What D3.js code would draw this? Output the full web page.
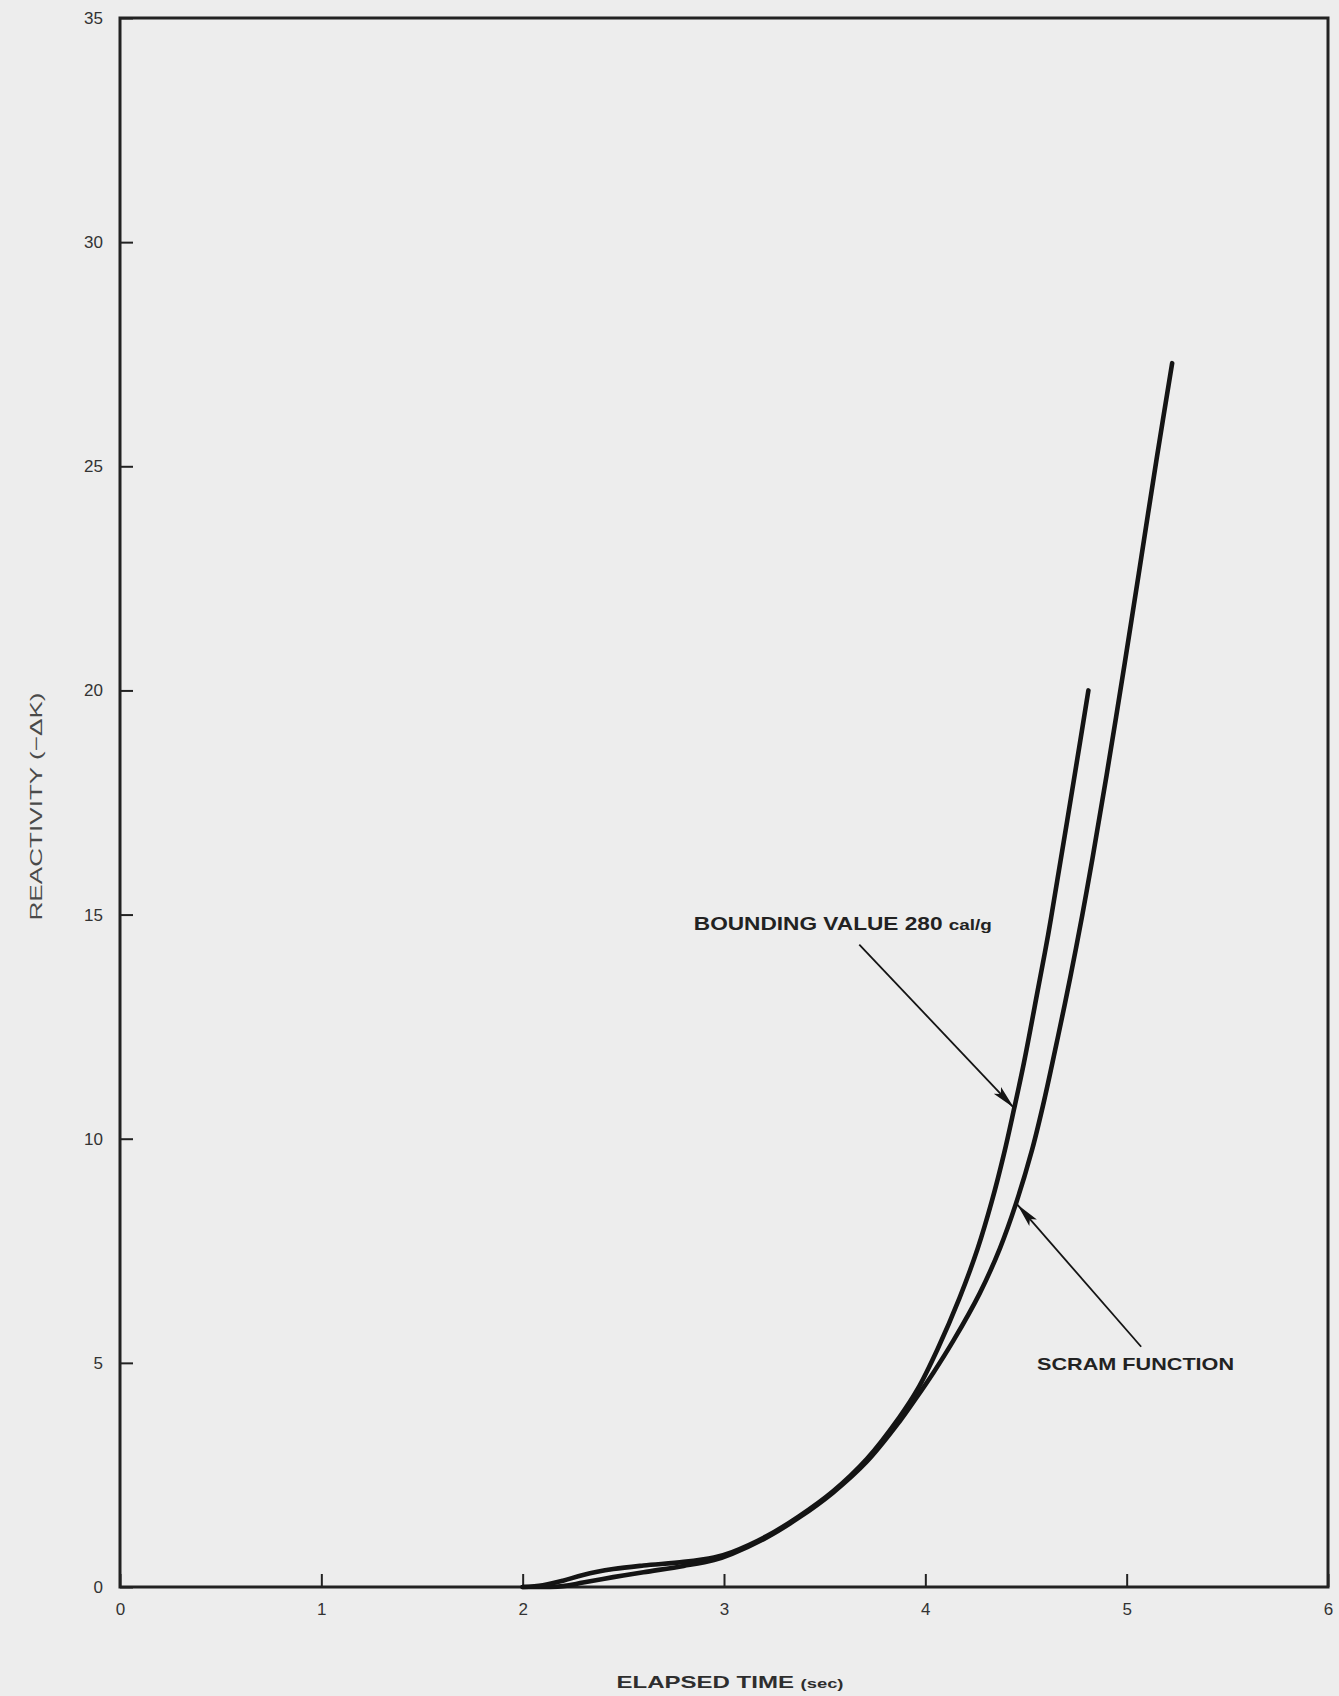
<!DOCTYPE html>
<html>
<head>
<meta charset="utf-8">
<script src="https://cdn.jsdelivr.net/npm/d3@7"></script>
<style>
  html, body { margin: 0; padding: 0; background: #ededed; }
  svg { display: block; }
</style>
</head>
<body>
<svg id="chart" width="1339" height="1696"></svg>
<script>
// Axis ticks
const timeTicks = [0, 1, 2, 3, 4, 5, 6];
const reactivityTicks = [0, 5, 10, 15, 20, 25, 30, 35];

// Bounding value (280 cal/g) reactivity curve
const boundingTime = [2.0, 2.1, 2.2, 2.3, 2.45, 2.6, 2.8, 2.95, 3.04, 3.21, 3.37, 3.54, 3.71, 3.87, 3.96, 4.06, 4.17, 4.26, 4.33, 4.39, 4.44, 4.49, 4.56, 4.61, 4.655, 4.745, 4.81];
const boundingReactivity = [0, 0.04, 0.14, 0.27, 0.4, 0.48, 0.56, 0.66, 0.78, 1.13, 1.57, 2.13, 2.86, 3.78, 4.4, 5.3, 6.45, 7.55, 8.6, 9.65, 10.65, 11.7, 13.35, 14.55, 15.75, 18.2, 20.0];

// Scram function reactivity curve
const scramTime = [2.0, 2.2, 2.3, 2.45, 2.6, 2.8, 2.95, 3.04, 3.21, 3.37, 3.54, 3.71, 3.87, 3.96, 4.04, 4.14, 4.27, 4.37, 4.45, 4.53, 4.59, 4.66, 4.72, 4.78, 4.83, 4.90, 4.99, 5.06, 5.15, 5.226];
const scramReactivity = [0, 0.02, 0.1, 0.22, 0.33, 0.47, 0.6, 0.74, 1.1, 1.54, 2.1, 2.8, 3.68, 4.25, 4.78, 5.5, 6.55, 7.55, 8.55, 9.75, 10.85, 12.3, 13.6, 15.0, 16.25, 18.1, 20.6, 22.6, 25.2, 27.3];

// Callout labels: text, label anchor (time, reactivity), arrow tail and head
const calloutText = ["BOUNDING VALUE 280 cal/g", "SCRAM FUNCTION"];
const calloutLabelAt = [[2.85, 14.65], [4.555, 4.85]];
const calloutFrom = [[3.672, 14.33], [5.072, 5.36]];
const calloutTo = [[4.44, 10.69], [4.457, 8.53]];

const svg = d3.select("#chart");
const margin = { left: 120, right: 11, top: 18, bottom: 109 };
const W = 1339, H = 1696;

const x = d3.scaleLinear().domain([0, 6]).range([margin.left, W - margin.right]);
const y = d3.scaleLinear().domain([0, 35]).range([H - margin.bottom, margin.top]);

const ink = "#141414";
const labelInk = "#333";
const font = "'Liberation Sans', Arial, sans-serif";

// Frame around the plotting area
svg.append("rect")
  .attr("x", x(0)).attr("y", y(35))
  .attr("width", x(6) - x(0)).attr("height", y(0) - y(35))
  .attr("fill", "none").attr("stroke", "#222").attr("stroke-width", 3);

// Left axis with inward ticks
const yAxis = svg.append("g")
  .attr("transform", `translate(${x(0)},0)`)
  .call(d3.axisLeft(y).tickValues(reactivityTicks).tickFormat(d3.format("d"))
    .tickSizeInner(-13).tickSizeOuter(0).tickPadding(17));
yAxis.select(".domain").remove();
yAxis.selectAll(".tick line").attr("stroke", "#222").attr("stroke-width", 2);
yAxis.selectAll(".tick text")
  .attr("fill", labelInk).attr("font-family", font).attr("font-size", 17);

// Bottom axis with inward ticks
const xAxis = svg.append("g")
  .attr("transform", `translate(0,${y(0)})`)
  .call(d3.axisBottom(x).tickValues(timeTicks).tickFormat(d3.format("d"))
    .tickSizeInner(-13).tickSizeOuter(0).tickPadding(16));
xAxis.select(".domain").remove();
xAxis.selectAll(".tick line").attr("stroke", "#222").attr("stroke-width", 2);
xAxis.selectAll(".tick text")
  .attr("fill", labelInk).attr("font-family", font).attr("font-size", 17);

// Axis titles
const xt = svg.append("text")
  .attr("x", (x(0) + x(6)) / 2 + 6).attr("y", 1688)
  .attr("text-anchor", "middle")
  .attr("fill", "#2e2e2e").attr("font-family", font)
  .attr("font-size", 17).attr("font-weight", "bold")
  .attr("textLength", 227).attr("lengthAdjust", "spacingAndGlyphs");
xt.append("tspan").text("ELAPSED TIME ");
xt.append("tspan").attr("font-size", 13).text("(sec)");

svg.append("text")
  .attr("transform", `translate(42,${(y(0) + y(35)) / 2 + 4}) rotate(-90)`)
  .attr("text-anchor", "middle")
  .attr("fill", "#4a4a4a").attr("font-family", font)
  .attr("font-size", 17)
  .attr("textLength", 228).attr("lengthAdjust", "spacingAndGlyphs")
  .text("REACTIVITY (\u2212\u0394K)");

// Curves
const line = d3.line()
  .x(d => x(d[0]))
  .y(d => y(d[1]))
  .curve(d3.curveCatmullRom.alpha(0.5));

const boundingPts = boundingTime.map((t, i) => [t, boundingReactivity[i]]);
const scramPts = scramTime.map((t, i) => [t, scramReactivity[i]]);

[scramPts, boundingPts].forEach(pts => {
  svg.append("path")
    .datum(pts)
    .attr("d", line)
    .attr("fill", "none")
    .attr("stroke", ink)
    .attr("stroke-width", 4.6)
    .attr("stroke-linecap", "round")
    .attr("stroke-linejoin", "round");
});

// Arrowhead for callouts
svg.append("defs").append("marker")
  .attr("id", "head")
  .attr("viewBox", "0 0 24 12")
  .attr("refX", 24).attr("refY", 6)
  .attr("markerWidth", 24).attr("markerHeight", 12)
  .attr("markerUnits", "userSpaceOnUse")
  .attr("orient", "auto")
  .append("path")
  .attr("d", "M0,1 L24,6 L0,11 L5,6 Z")
  .attr("fill", ink);

calloutText.forEach((txt, i) => {
  svg.append("line")
    .attr("x1", x(calloutFrom[i][0])).attr("y1", y(calloutFrom[i][1]))
    .attr("x2", x(calloutTo[i][0])).attr("y2", y(calloutTo[i][1]))
    .attr("stroke", ink).attr("stroke-width", 1.8)
    .attr("marker-end", "url(#head)");
});

// Callout labels
const b = svg.append("text")
  .attr("x", x(calloutLabelAt[0][0])).attr("y", y(calloutLabelAt[0][1]))
  .attr("fill", "#222").attr("font-family", font)
  .attr("font-size", 18).attr("font-weight", "bold")
  .attr("textLength", 298).attr("lengthAdjust", "spacingAndGlyphs");
b.append("tspan").text("BOUNDING VALUE 280 ");
b.append("tspan").attr("font-size", 15).text("cal/g");

svg.append("text")
  .attr("x", x(calloutLabelAt[1][0])).attr("y", y(calloutLabelAt[1][1]))
  .attr("fill", "#222").attr("font-family", font)
  .attr("font-size", 17).attr("font-weight", "bold")
  .attr("textLength", 197).attr("lengthAdjust", "spacingAndGlyphs")
  .text(calloutText[1]);
</script>
</body>
</html>
